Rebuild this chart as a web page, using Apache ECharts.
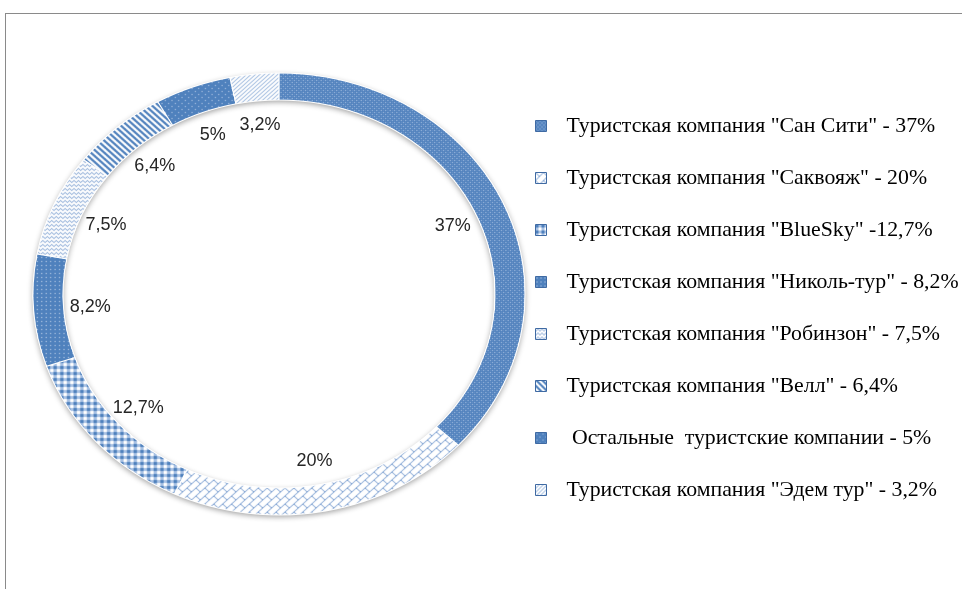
<!DOCTYPE html>
<html><head><meta charset="utf-8">
<script src="https://cdn.jsdelivr.net/npm/echarts@6/dist/echarts.min.js"></script>
<style>
html,body{margin:0;padding:0;width:962px;height:589px;overflow:hidden;background:#fff;}
#frame{position:absolute;left:5px;top:13px;width:1200px;height:800px;border:1px solid #8a8a8a;box-sizing:border-box;}
#ring{position:absolute;left:0;top:0;width:864px;height:589px;transform:scaleX(1.1131);transform-origin:0 0;}
#legend{position:absolute;left:0;top:0;width:962px;height:589px;}
</style></head><body>
<div id="frame"></div><div id="ring"></div><div id="legend"></div>
<script>
// ---- data ----
const companies = [
  'Туристская компания "Сан Сити" - 37%',
  'Туристская компания "Саквояж" - 20%',
  'Туристская компания "BlueSky" -12,7%',
  'Туристская компания "Николь-тур" - 8,2%',
  'Туристская компания "Робинзон" - 7,5%',
  'Туристская компания "Велл" - 6,4%',
  ' Остальные  туристские компании - 5%',
  'Туристская компания "Эдем тур" - 3,2%'
];
const shares = [37, 20, 12.7, 8.2, 7.5, 6.4, 5, 3.2];
const shareLabels = ['37%', '20%', '12,7%', '8,2%', '7,5%', '6,4%', '5%', '3,2%'];

// ---- pattern fills (style only) ----
const BLUE = '#4F81BD', LINE = '#789dd0', LIGHT = '#a9c2e4';
function pat(w, h, draw) {
  const c = document.createElement('canvas'); c.width = w; c.height = h;
  const g = c.getContext('2d'); draw(g, w, h);
  return { image: c, repeat: 'repeat' };
}
function px(g, color, pts) { g.fillStyle = color; pts.forEach(p => g.fillRect(p[0], p[1], 1, 1)); }
const patterns = [
  pat(4, 4, (g) => { g.fillStyle = BLUE; g.fillRect(0,0,4,4); px(g, '#b9cceb', [[0,0],[2,2]]); px(g,'#6f95ca',[[2,0],[0,2]]); }),
  pat(8, 8, (g) => { g.fillStyle = '#fff'; g.fillRect(0,0,8,8);
    const pts = []; for (let i = 0; i < 8; i++) pts.push([i, 7 - i]); for (let i = 0; i < 4; i++) pts.push([i, i]);
    px(g, LINE, pts); }),
  pat(6, 6, (g) => { g.fillStyle = '#fff'; g.fillRect(0,0,6,6); g.fillStyle = LIGHT; g.fillRect(0,0,6,3); g.fillRect(0,0,3,6);
    g.fillStyle = BLUE; g.fillRect(0,0,3,3); }),
  pat(4, 4, (g) => { g.fillStyle = BLUE; g.fillRect(0,0,4,4); px(g, '#c9d8ee', [[1,1]]); }),
  pat(4, 4, (g) => { g.fillStyle = '#fff'; g.fillRect(0,0,4,4); px(g, LINE, [[0,2],[1,1],[2,0],[3,1]]); }),
  pat(6, 6, (g) => { g.fillStyle = '#fff'; g.fillRect(0,0,6,6); const pts = [];
    for (let x = 0; x < 6; x++) for (let y = 0; y < 6; y++) { const m = ((x - y) % 6 + 6) % 6; if (m < 3) pts.push([x, y]); }
    px(g, BLUE, pts); }),
  pat(6, 6, (g) => { g.fillStyle = BLUE; g.fillRect(0,0,6,6); px(g, '#b7cbe9', [[1,1],[4,4]]); }),
  pat(4, 4, (g) => { g.fillStyle = '#fff'; g.fillRect(0,0,4,4); const pts = [];
    for (let x = 0; x < 4; x++) for (let y = 0; y < 4; y++) if ((x + y) % 4 === 3) pts.push([x, y]);
    px(g, '#86a8d6', pts); })
];

const S = 1.1131;            // horizontal stretch of the elliptical ring
const CXB = 279, CY = 294;   // ring centre in page pixels
const CXA = CXB / S;         // same centre in the stretched layer

// ---- ring layer (stretched horizontally into an ellipse) ----
const ring = echarts.init(document.getElementById('ring'), null, { renderer: 'canvas', devicePixelRatio: 2 });
ring.setOption({
  animation: false,
  series: [
    { // soft shadow under the ring
      type: 'pie', silent: true, startAngle: 90, center: [CXA, CY], radius: [194, 221],
      label: { show: false }, labelLine: { show: false },
      itemStyle: { color: '#ffffff', shadowBlur: 6, shadowColor: 'rgba(0,0,0,0.38)', shadowOffsetY: 2 },
      data: [{ name: 'shadow', value: 1 }]
    },
    {
      type: 'pie', name: 'ring', silent: true, startAngle: 90, clockwise: true,
      center: [CXA, CY], radius: [194, 221],
      label: { show: false }, labelLine: { show: false },
      itemStyle: { borderColor: '#ffffff', borderWidth: 1 },
      data: companies.map((n, i) => ({ name: n, value: shares[i], itemStyle: { color: patterns[i] } }))
    }
  ]
});

// ---- legend + labels layer (not stretched) ----
const leg = echarts.init(document.getElementById('legend'));
leg.setOption({
  animation: false,
  legend: {
    orient: 'vertical', left: 535, top: 115, padding: 0,
    itemWidth: 11, itemHeight: 11, itemGap: 30, icon: 'rect',
    textStyle: { fontFamily: '"Liberation Serif", "Times New Roman", serif', fontSize: 21.8, color: '#000',
      lineHeight: 22, padding: [0, 0, 0, 15] },
    data: companies.map((n, i) => ({ name: n, itemStyle: { color: patterns[i], borderColor: '#3f6aa3', borderWidth: 1 } }))
  },
  series: [{
    type: 'pie', silent: true, startAngle: 90, clockwise: true,
    center: [CXB, CY], radius: [0, 334],
    itemStyle: { color: 'rgba(0,0,0,0)' },
    label: { show: true, position: 'inside', color: '#262626',
      fontFamily: '"Liberation Sans", Arial, sans-serif', fontSize: 18,
      formatter: (p) => shareLabels[p.dataIndex] },
    labelLine: { show: false },
    // stretch the label ring horizontally to follow the elliptical doughnut
    labelLayout: (p) => {
      const mx = p.labelRect.x + p.labelRect.width / 2;
      const my = p.labelRect.y + p.labelRect.height / 2;
      return { x: CXB + (mx - CXB) * S, y: my, align: 'center', verticalAlign: 'middle' };
    },
    data: companies.map((n, i) => ({ name: n, value: shares[i] }))
  }]
});
</script>
</body></html>
